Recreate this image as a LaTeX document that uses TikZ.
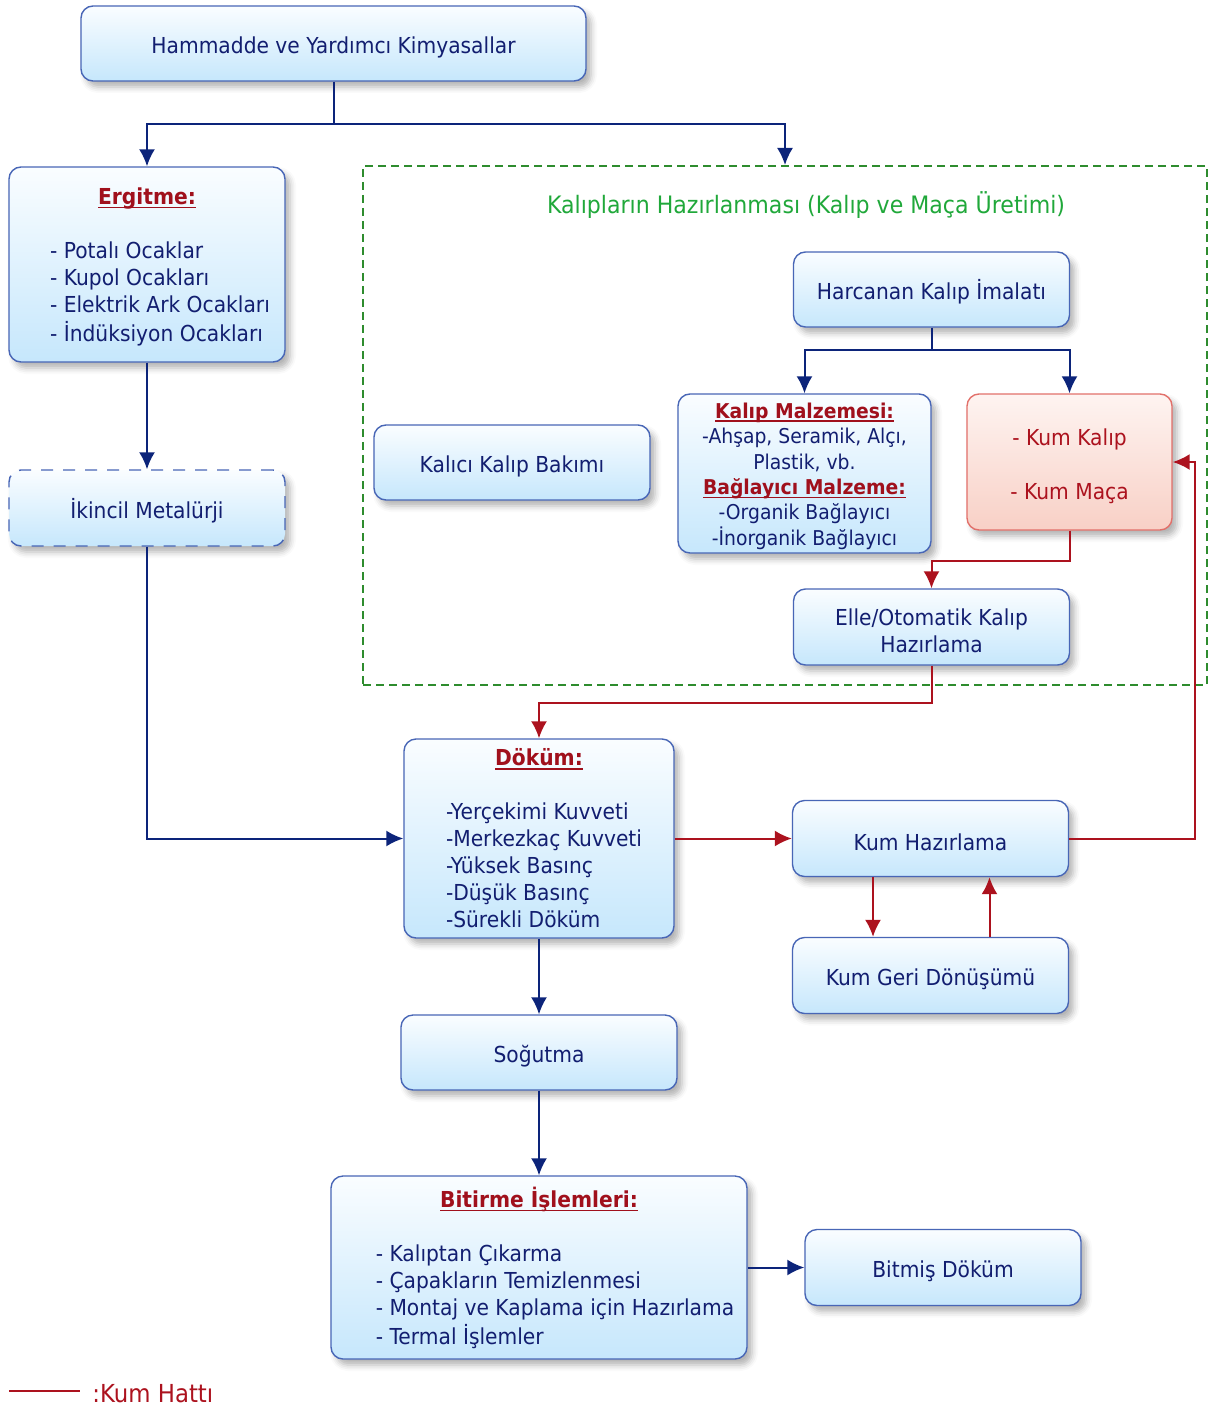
\documentclass[tikz,border=0pt]{standalone}
\usepackage{fontspec}
\setmainfont{DejaVu Sans}[FakeStretch=0.92]
\usepackage{xcolor}
\usetikzlibrary{shapes,arrows.meta,shadows.blur}

\definecolor{navy}{RGB}{12,36,122}
\definecolor{txtblue}{RGB}{18,30,112}
\definecolor{boxline}{RGB}{72,102,182}
\definecolor{boxtop}{RGB}{250,253,255}
\definecolor{boxfill}{RGB}{198,231,252}
\definecolor{hdred}{RGB}{160,16,28}
\definecolor{sandred}{RGB}{172,18,30}
\definecolor{pinktop}{RGB}{254,244,241}
\definecolor{pinkfill}{RGB}{248,208,198}
\definecolor{pinkline}{RGB}{226,112,106}
\definecolor{grpgreen}{RGB}{46,140,46}
\definecolor{ttlgreen}{RGB}{32,168,58}

\newcommand{\bx}{\fontsize{11}{13.5}\selectfont}
\newcommand{\sbx}{\fontsize{10.2}{12.7}\selectfont}
\newcommand{\up}{\rule{0pt}{12.5pt}}
\newcommand{\hd}[1]{{\color{hdred}\bfseries\setbox0\hbox{#1}\rlap{\rule[-1.8pt]{\wd0}{0.8pt}}\box0}}
\newcommand{\lst}[1]{\begin{tabular}[t]{@{}l@{}}#1\end{tabular}}

\begin{document}
\begin{tikzpicture}[x=0.5pt, y=-0.5pt, node distance=2cm, auto]
	\tikzstyle{block} = [rectangle, draw=boxline, line width=0.7pt, top color=boxtop, bottom color=boxfill,
	text=txtblue, font=\bx, align=center, rounded corners=6pt, minimum width=138pt, minimum height=38pt,
	blur shadow={shadow xshift=2.5pt, shadow yshift=-3pt, shadow blur radius=3pt, shadow opacity=30}]
	\tikzstyle{sandbox} = [block, draw=pinkline, top color=pinktop, bottom color=pinkfill, text=sandred]
	\tikzstyle{line} = [draw, -{Latex[length=8.5pt,width=8pt]}, line width=1pt, navy]
	\tikzstyle{redline} = [line, sandred]
	\useasboundingbox (0,0) rectangle (1208,1412);
	% Group frame
	\node [draw=grpgreen, line width=1pt, dash pattern=on 4pt off 2.5pt, minimum width=422pt, minimum height=259.5pt] (grp) at (785,425.5) {};
	\node [text=ttlgreen, font=\fontsize{12}{14}\selectfont] (grptitle) at (806,203) {\up Kalıpların Hazırlanması (Kalıp ve Maça Üretimi)};
	% Place nodes
	\node [block, minimum width=252.5pt, minimum height=37.5pt] (ham) at (333.5,43.5) {\up Hammadde ve Yardımcı Kimyasallar};
	\node [block, minimum height=97.5pt] (erg) at (147,264.5) {\up\hd{Ergitme:}\\[13.5pt]\hspace*{13pt}\lst{- Potalı Ocaklar\\- Kupol Ocakları\\- Elektrik Ark Ocakları\\- İndüksiyon Ocakları}};
	\node [block, below of=erg, node distance=121.75pt, dash pattern=on 6pt off 5pt] (ikn) {\up İkincil Metalürji};
	\node [block, minimum height=37.5pt] (harc) at (931.5,289.5) {\up Harcanan Kalıp İmalatı};
	\node [block, minimum height=37.5pt] (kalici) at (512,462.5) {\up Kalıcı Kalıp Bakımı};
	\node [block, font=\sbx, inner ysep=0pt, minimum width=126.5pt, minimum height=79.5pt] (malz) at (804.5,473.5) {\rule{0pt}{10.5pt}\hd{Kalıp Malzemesi:}\\-Ahşap, Seramik, Alçı,\\Plastik, vb.\\\hd{Bağlayıcı Malzeme:}\\-Organik Bağlayıcı\\-İnorganik Bağlayıcı};
	\node [sandbox, minimum width=102.5pt, minimum height=68pt] (kum) at (1069.5,462) {\up- Kum Kalıp\\[13.5pt]- Kum Maça};
	\node [block, below of=harc, node distance=168.75pt] (elle) {\up Elle/Otomatik Kalıp\\Hazırlama};
	\node [block, inner ysep=0.5pt, minimum width=135pt, minimum height=99.5pt] (dokum) at (539,838.5) {\up\hd{Döküm:}\\[13.5pt]\hspace*{5pt}\lst{-Yerçekimi Kuvveti\\-Merkezkaç Kuvveti\\-Yüksek Basınç\\-Düşük Basınç\\-Sürekli Döküm}};
	\node [block, right of=dokum, node distance=195.75pt] (kumh) {\up Kum Hazırlama};
	\node [block, below of=kumh, node distance=68.5pt] (kumg) {\up Kum Geri Dönüşümü};
	\node [block, below of=dokum, node distance=107pt, minimum height=37.5pt] (sog) {\up Soğutma};
	\node [block, below of=sog, node distance=107.5pt, minimum width=208pt, minimum height=91.5pt] (bit) {\up\hd{Bitirme İşlemleri:}\\[13.5pt]\hspace*{16pt}\lst{- Kalıptan Çıkarma\\- Çapakların Temizlenmesi\\- Montaj ve Kaplama için Hazırlama\\- Termal İşlemler}};
	\node [block, right of=bit, node distance=202pt] (bitmis) {\up Bitmiş Döküm};
	% Legend
	\coordinate (lgA) at (9,1391);
	\coordinate (lgB) at (80,1391);
	\draw [sandred, line width=1pt] (lgA) -- (lgB);
	\node [anchor=west, text=sandred, font=\fontsize{12.4}{14}\selectfont, inner sep=0pt] (lgtext) at (92,1394) {:Kum Hattı};
	% Draw edges
	\coordinate (hsplit) at (333.5,124);
	\coordinate (csplit) at (931.5,350);
	\path [line] (ham.south) -- (hsplit) -| (erg.north);
	\path [line] (hsplit) -| (grp.north);
	\path [line] (erg) -- (ikn);
	\path [line] (ikn.south) |- (dokum.west);
	\path [line] (harc.south) -- (csplit) -| (malz.north);
	\path [line] (csplit) -| (kum.north);
	\path [redline] (kum.south) -- ++(0,30) -| (elle.north);
	\path [redline] (elle.south) -- ++(0,37) -| (dokum.north);
	\path [redline] (dokum.east) -- (kumh.west);
	\path [redline] (kumh.east) -- ++(126,0) |- (kum.east);
	\path [redline] ([xshift=-28.75pt]kumh.south) -- ([xshift=-28.75pt]kumh.south |- kumg.north);
	\path [redline] ([xshift=29.5pt]kumg.north) -- ([xshift=29.5pt]kumg.north |- kumh.south);
	\path [line] (dokum) -- (sog);
	\path [line] (sog) -- (bit);
	\path [line] (bit) -- (bitmis);
\end{tikzpicture}
\end{document}
